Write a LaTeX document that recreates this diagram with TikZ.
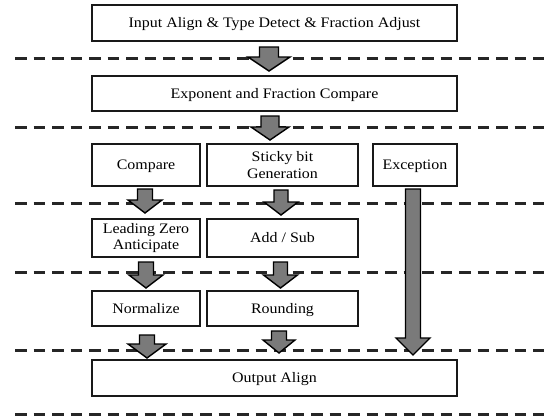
\documentclass[tikz,border=0pt]{standalone}
\usepackage{fontspec}
\setmainfont{Liberation Serif}[FakeStretch=1.1]
\usetikzlibrary{calc}
\tikzset{
  box/.style={draw=black!90, line width=1.7pt, fill=white, inner sep=0pt, outer sep=0pt,
    align=center, text=black, font=\fontsize{14.5}{16.5}\selectfont},
  oneline/.style={text height=12.6pt, text depth=3pt},
  sep/.style={line width=3pt, black!85, dash pattern=on 11.5pt off 7pt},
  arrowfill/.style={draw=black, line width=1.4pt, fill=black!52, line join=miter}
}
\newcommand\blockarr[5]{%
  \draw[arrowfill] let \p1=(#1), \p2=(#2) in
    (\x1-#3pt,\y1) -- (\x1+#3pt,\y1) -- (\x1+#3pt,\y2+#5pt) -- (\x1+#4pt,\y2+#5pt)
    -- (\x1,\y2) -- (\x1-#4pt,\y2+#5pt) -- (\x1-#3pt,\y2+#5pt) -- cycle;}
\begin{document}
\begin{tikzpicture}[x=1pt,y=-1pt]
\useasboundingbox (0,0) rectangle (544,418);
% stage separators
\foreach \yy in {58,127,203,272,350,414}{
  \draw[sep] (15,\yy) -- (544,\yy);
}
% boxes
\node[box, oneline, minimum width=365pt, minimum height=36pt] (in) at (274.5,23) {Input Align \& Type Detect \& Fraction Adjust};
\node[box, oneline, minimum width=365pt, minimum height=35pt] (exp) at (274.5,93.5) {Exponent and Fraction Compare};
\node[box, oneline, minimum width=108pt, minimum height=42pt] (cmp) at (146,165) {Compare};
\node[box, minimum width=151pt, minimum height=42pt] (sticky) at (282.5,165) {Sticky bit\\Generation};
\node[box, oneline, minimum width=84pt, minimum height=42pt] (exc) at (415,165) {Exception};
\node[box, minimum width=108pt, minimum height=38pt] (lza) at (146,238) {Leading Zero\\Anticipate};
\node[box, oneline, minimum width=151pt, minimum height=38pt] (add) at (282.5,238) {Add / Sub};
\node[box, oneline, minimum width=108pt, minimum height=35pt] (norm) at (146,308.5) {Normalize};
\node[box, oneline, minimum width=151pt, minimum height=35pt] (round) at (282.5,308.5) {Rounding};
\node[box, oneline, minimum width=365pt, minimum height=36pt] (out) at (274.5,378) {Output Align};
% block arrows
\coordinate (a1s) at ($(in.south)+(-5.5,6)$);   \coordinate (a1e) at ($(exp.north)+(0,-5)$);
\coordinate (a2s) at ($(exp.south)+(-4.5,5)$);  \coordinate (a2e) at ($(sticky.north)+(0,-4)$);
\coordinate (a3s) at ($(cmp.south)+(-1,3)$);    \coordinate (a3e) at ($(lza.north)+(0,-6)$);
\coordinate (a4s) at ($(sticky.south)+(-1.5,4)$); \coordinate (a4e) at ($(add.north)+(0,-4)$);
\coordinate (a5s) at ($(lza.south)+(0,5)$);     \coordinate (a5e) at ($(norm.north)+(0,-3)$);
\coordinate (a6s) at ($(add.south)+(-2,5)$);    \coordinate (a6e) at ($(round.north)+(0,-3)$);
\coordinate (a7s) at ($(norm.south)+(1,9)$);    \coordinate (a7e) at ($(out.north)+(0,-2)$);
\coordinate (a8s) at ($(round.south)+(-3.5,5)$); \coordinate (a8e) at ($(out.north)+(0,-7)$);
\coordinate (a9s) at ($(exc.south)+(-2,3)$);    \coordinate (a9e) at ($(out.north)+(0,-5)$);
\blockarr{a1s}{a1e}{9.5}{21}{14}
\blockarr{a2s}{a2e}{9}{19}{13}
\blockarr{a3s}{a3e}{7.5}{17}{13}
\blockarr{a4s}{a4e}{7}{17}{13}
\blockarr{a5s}{a5e}{7.5}{17}{13}
\blockarr{a6s}{a6e}{7}{17}{13}
\blockarr{a7s}{a7e}{7.5}{19}{14}
\blockarr{a8s}{a8e}{7.5}{16}{13}
\blockarr{a9s}{a9e}{7.5}{17}{17}
\end{tikzpicture}
\end{document}
